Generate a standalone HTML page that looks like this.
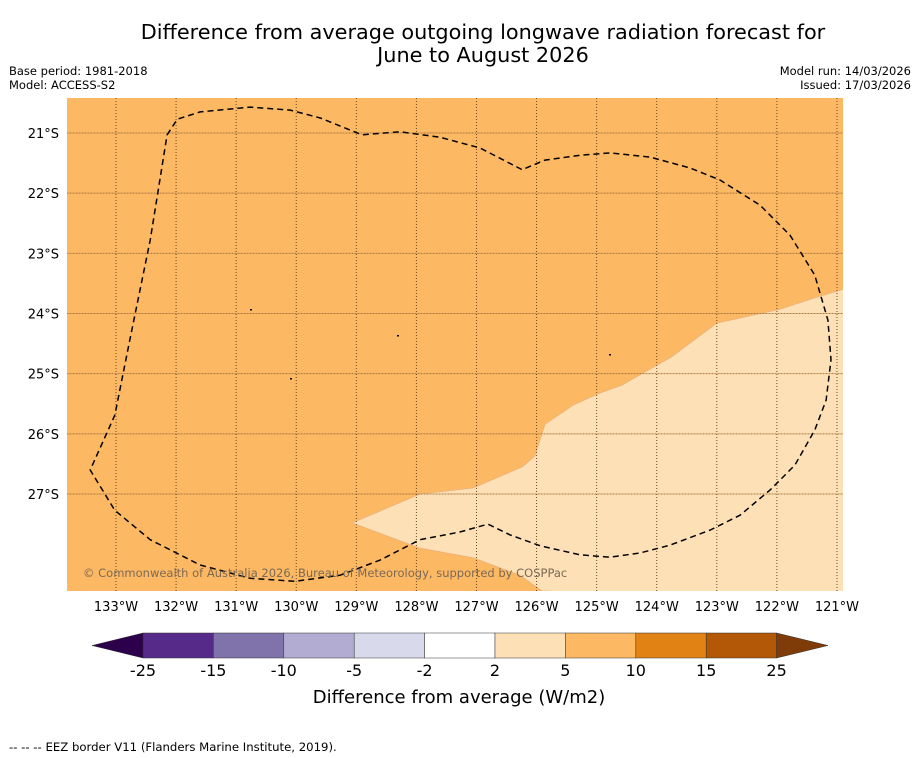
<!DOCTYPE html>
<html><head><meta charset="utf-8"><style>
body{margin:0;background:#fff;width:919px;height:758px;overflow:hidden;font-family:"Liberation Sans","DejaVu Sans",sans-serif}
svg{display:block}
</style></head><body>
<svg id="chart" width="919" height="758" font-family="DejaVu Sans, Liberation Sans, sans-serif">
<text x="483" y="39" text-anchor="middle" font-size="20.8">Difference from average outgoing longwave radiation forecast for</text>
<text x="483" y="62" text-anchor="middle" font-size="20.8">June to August 2026</text>
<text x="9" y="75" font-size="11.5">Base period: 1981-2018</text>
<text x="9" y="89" font-size="11.5">Model: ACCESS-S2</text>
<text x="911" y="75" font-size="11.5" text-anchor="end">Model run: 14/03/2026</text>
<text x="911" y="89" font-size="11.5" text-anchor="end">Issued: 17/03/2026</text>
<defs><clipPath id="mapclip"><rect x="67" y="98" width="776" height="493"/></clipPath></defs>
<g id="map" clip-path="url(#mapclip)">
<rect x="67" y="98" width="776" height="493" fill="#fdb863"/>
</g>
<g id="axes"></g>
<g id="cbar"></g>
<text x="459" y="703" text-anchor="middle" font-size="18">Difference from average (W/m2)</text>
<text x="9" y="751" font-size="11.7">--  --  -- EEZ border V11 (Flanders Marine Institute, 2019).</text>
</svg>
<script>
const lonTicks=[-133,-132,-131,-130,-129,-128,-127,-126,-125,-124,-123,-122,-121];
const latTicks=[-21,-22,-23,-24,-25,-26,-27];
const lightLon=[-129.07,-127.94,-127.06,-126.24,-126.03,-125.86,-125.39,-124.94,-124.58,-123.75,-123.0,-121.95,-121.28,-120.7,-120.7,-125.91,-126.28,-127.06,-127.94];
const lightLat=[-27.48,-27.0,-26.9,-26.55,-26.37,-25.84,-25.52,-25.32,-25.19,-24.72,-24.16,-23.93,-23.71,-23.54,-28.8,-28.61,-28.35,-28.06,-27.9];
const eezLon=[-132.15,-131.98,-131.6,-130.77,-130.1,-129.6,-128.91,-128.27,-127.61,-126.94,-126.24,-125.86,-125.28,-124.78,-124.11,-123.45,-122.95,-122.28,-121.78,-121.37,-121.15,-121.1,-121.18,-121.37,-121.7,-122.11,-122.61,-123.11,-123.78,-124.28,-124.78,-125.28,-125.94,-126.44,-126.81,-127.27,-127.94,-128.61,-129.27,-130.02,-130.77,-131.6,-132.43,-133.02,-133.43,-133.02,-132.77,-132.43,-132.15];
const eezLat=[-21.03,-20.77,-20.65,-20.57,-20.62,-20.75,-21.03,-20.98,-21.07,-21.25,-21.61,-21.45,-21.37,-21.33,-21.4,-21.58,-21.78,-22.2,-22.7,-23.36,-24.11,-24.77,-25.44,-25.94,-26.52,-26.93,-27.35,-27.6,-27.85,-27.98,-28.05,-28.01,-27.86,-27.68,-27.5,-27.63,-27.76,-28.1,-28.35,-28.45,-28.4,-28.18,-27.76,-27.27,-26.6,-25.69,-24.44,-22.78,-21.03];
const cbLevels=[-25,-15,-10,-5,-2,2,5,10,15,25];
const cbColors=["#552a88","#8073ac","#b2abd2","#d8daeb","#ffffff","#fee0b6","#fdb863","#e08214","#b35806"];
const NS="http://www.w3.org/2000/svg";
const X=lon=>116+(lon+133)*60.08;
const Y=lat=>133+(-21-lat)*60.17;
function mk(t,a,p){const e=document.createElementNS(NS,t);for(const k in a)e.setAttribute(k,a[k]);p.appendChild(e);return e;}
const map=document.getElementById('map'),axes=document.getElementById('axes'),cb=document.getElementById('cbar');
let pts=lightLon.map((l,i)=>X(l).toFixed(1)+','+Y(lightLat[i]).toFixed(1)).join(' ');
const lp=mk('polygon',{points:pts,fill:'#fee0b6',stroke:'#e9b27a','stroke-width':0.8},map);


latTicks.forEach(v=>{const l=mk('line',{x1:67,x2:843,y1:Y(v),y2:Y(v),stroke:'#a87840','stroke-width':1,'stroke-dasharray':'1,0.5'},map);


const t=mk('text',{x:59,y:Y(v)+5,'text-anchor':'end','font-size':13},axes);t.textContent=Math.abs(v)+'°S';

});
lonTicks.forEach(v=>{const l=mk('line',{x1:X(v),x2:X(v),y1:98,y2:591,stroke:'#6b4a20','stroke-width':1,'stroke-dasharray':'1,2'},map);


const t=mk('text',{x:X(v),y:611,'text-anchor':'middle','font-size':13},axes);t.textContent=Math.abs(v)+'°W';

});
pts=eezLon.map((l,i)=>X(l).toFixed(1)+','+Y(eezLat[i]).toFixed(1)).join(' ');
const ez=mk('polyline',{points:pts,fill:'none',stroke:'#000','stroke-width':1.5,'stroke-dasharray':'6,4'},map);


[[250,309],[290,378],[397,335],[609,354]].forEach(p=>{const d=mk('rect',{x:p[0],y:p[1],width:2,height:1.5,fill:'#000'},map);

});
const cr=mk('text',{x:83,y:577,'font-size':11.5,fill:'#7a6a55'},map);cr.textContent='© Commonwealth of Australia 2026, Bureau of Meteorology, supported by COSPPac';


const CX=v=>143+(cbLevels.indexOf(v))*70.4;
const y0=633,h=25;
cbColors.forEach((c,i)=>{const r=mk('rect',{x:CX(cbLevels[i]),y:y0,width:CX(cbLevels[i+1])-CX(cbLevels[i]),height:h,fill:c,stroke:'#333','stroke-width':0.5},cb);

});
const t1=mk('polygon',{points:`${CX(-25)},${y0} 92,${y0+h/2} ${CX(-25)},${y0+h}`,fill:'#2d004b',stroke:'#333','stroke-width':0.5},cb);


const t2=mk('polygon',{points:`${CX(25)},${y0} 828,${y0+h/2} ${CX(25)},${y0+h}`,fill:'#7f3b08',stroke:'#333','stroke-width':0.5},cb);


cbLevels.forEach(v=>{const t=mk('text',{x:CX(v),y:676,'text-anchor':'middle','font-size':16},cb);t.textContent=v;

});
</script>
</body></html>
